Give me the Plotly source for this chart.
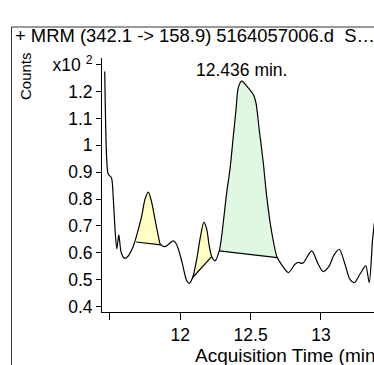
import plotly.graph_objects as go

# Chromatogram (x10^2 counts)
time = [11.463, 11.477, 11.488, 11.510, 11.524, 11.537, 11.549, 11.563, 11.580, 11.604,
        11.630, 11.665, 11.689, 11.726, 11.749, 11.773, 11.797, 11.820, 11.844, 11.858,
        11.891, 11.950, 11.974, 12.010, 12.045, 12.064, 12.088, 12.117, 12.140, 12.168,
        12.188, 12.206, 12.223, 12.247, 12.277, 12.294, 12.330, 12.353, 12.377, 12.396,
        12.412, 12.436, 12.483, 12.519, 12.538, 12.561, 12.590, 12.614, 12.650, 12.689,
        12.723, 12.768, 12.815, 12.839, 12.870, 12.934, 12.981, 13.016, 13.059, 13.092,
        13.130, 13.171, 13.206, 13.237, 13.277, 13.318, 13.343, 13.367, 13.383]
counts = [1.275, 0.948, 0.892, 0.880, 0.799, 0.681, 0.614, 0.667, 0.601, 0.579,
          0.588, 0.623, 0.663, 0.737, 0.799, 0.826, 0.787, 0.725, 0.662, 0.632,
          0.623, 0.644, 0.631, 0.570, 0.497, 0.486, 0.508, 0.576, 0.650, 0.714,
          0.687, 0.625, 0.586, 0.570, 0.607, 0.662, 0.824, 0.910, 1.034, 1.133,
          1.214, 1.239, 1.214, 1.189, 1.158, 1.059, 0.935, 0.811, 0.676, 0.582,
          0.554, 0.526, 0.557, 0.564, 0.561, 0.607, 0.557, 0.530, 0.551, 0.591,
          0.613, 0.557, 0.501, 0.489, 0.520, 0.551, 0.489, 0.650, 0.725]

# Integrated peaks: baseline start/end (time, level) and fill colour
peak_start_t = [11.686, 12.088, 12.277]
peak_start_b = [0.640, 0.508, 0.607]
peak_end_t = [11.863, 12.223, 12.689]
peak_end_b = [0.629, 0.586, 0.582]
peak_colors = ["#FFFFC4", "#FFFFC4", "#E0F8E2"]

x_ticks = [12, 12.5, 13]
x_ticktext = ["12", "12.5", "13"]
x_minor_ticks = [11.5]
y_ticks = [0.4, 0.5, 0.6, 0.7, 0.8, 0.9, 1.0, 1.1, 1.2, 1.3]
y_ticktext = ["0.4", "0.5", "0.6", "0.7", "0.8", "0.9", "1", "1.1", "1.2", "x10 <sup>2</sup>"]

FONT = "Liberation Sans, Arial, sans-serif"

fig = go.Figure()

for st, sb, et, eb, col in zip(peak_start_t, peak_start_b, peak_end_t, peak_end_b, peak_colors):
    px = [st] + [t for t in time if st <= t <= et] + [et, st]
    py = [sb] + [c for t, c in zip(time, counts) if st <= t <= et] + [eb, sb]
    fig.add_trace(go.Scatter(x=px, y=py, mode="lines", fill="toself", fillcolor=col,
                             line=dict(width=0), hoverinfo="skip", showlegend=False))
    fig.add_trace(go.Scatter(x=[st, et], y=[sb, eb], mode="lines",
                             line=dict(color="black", width=1.2), showlegend=False))

fig.add_trace(go.Scatter(x=time, y=counts, mode="lines",
                         line=dict(color="black", width=1.2, shape="spline", smoothing=0.8),
                         showlegend=False))

W, H = 374, 365
L, R, T, B = 102, 0, 58, 53
pw, ph = W - L - R, H - T - B

def pxx(x):
    return (x - L) / pw

def pyy(y):
    return (H - B - y) / ph

fig.update_layout(
    width=W, height=H,
    margin=dict(l=L, r=R, t=T, b=B),
    paper_bgcolor="white", plot_bgcolor="white",
    font=dict(family=FONT, size=17.5, color="black"),
    xaxis=dict(range=[11.4435, 13.377], tickvals=x_ticks, ticktext=x_ticktext,
               ticks="outside", ticklen=7, tickcolor="black", showline=True,
               linecolor="black", linewidth=1, showgrid=False, zeroline=False,
               tickfont=dict(size=17.5),
               minor=dict(tickvals=x_minor_ticks, ticks="outside", ticklen=7,
                          tickcolor="black", showgrid=False)),
    yaxis=dict(range=[0.3795, 1.325], tickvals=y_ticks, ticktext=y_ticktext,
               ticks="outside", ticklen=5, tickcolor="black", showline=True,
               linecolor="black", linewidth=1, showgrid=False, zeroline=False,
               tickfont=dict(size=17.5)),
    shapes=[
        dict(type="line", xref="paper", yref="paper", x0=pxx(11.5), x1=1.05,
             y0=pyy(27), y1=pyy(27), line=dict(color="#333", width=1)),
        dict(type="line", xref="paper", yref="paper", x0=pxx(11.5), x1=pxx(11.5),
             y0=pyy(27), y1=-0.3, line=dict(color="#333", width=1)),
    ],
    annotations=[
        dict(text="+ MRM (342.1 -> 158.9) 5164057006.d  S…", xref="paper", yref="paper",
             x=pxx(13), y=pyy(36), xanchor="left", yanchor="middle", showarrow=False,
             font=dict(size=18.4)),
        dict(text="Counts", xref="paper", yref="paper", x=pxx(25), y=pyy(76),
             xanchor="center", yanchor="middle", textangle=-90, showarrow=False,
             font=dict(size=15)),
        dict(text="12.436 min.", xref="x", yref="paper", x=12.434, y=pyy(70),
             xanchor="center", yanchor="middle", showarrow=False, font=dict(size=17.5)),
        dict(text="Acquisition Time (min)", xref="paper", yref="paper", x=pxx(193),
             y=pyy(355), xanchor="left", yanchor="middle", showarrow=False,
             font=dict(size=19)),
    ],
)

fig.write_html("out.html")
